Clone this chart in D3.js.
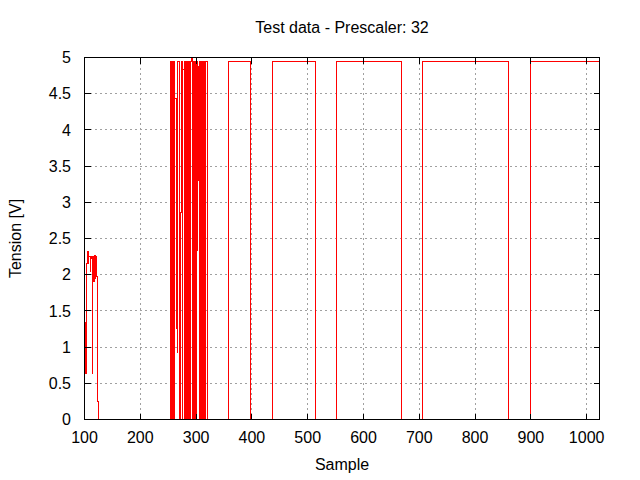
<!DOCTYPE html>
<html>
<head>
<meta charset="utf-8">
<script src="https://cdn.jsdelivr.net/npm/d3@7"></script>
<style>
  html, body { margin: 0; padding: 0; background: #fff; }
  svg { display: block; font-family: "Liberation Sans", Arial, sans-serif; }
</style>
</head>
<body>
<svg id="chart" width="640" height="480"></svg>
<script>
// ---- data ----
const chartTitle = "Test data - Prescaler: 32";
const xLabel = "Sample";
const yLabel = "Tension [V]";
const xTicks = [100, 200, 300, 400, 500, 600, 700, 800, 900, 1000];
const yTicks = [0, 0.5, 1, 1.5, 2, 2.5, 3, 3.5, 4, 4.5, 5];
const xDomain = [100, 1023];
const yDomain = [0, 5];

// early noisy section
const earlySample  = [100, 101, 102, 103, 104, 105, 106, 107, 108, 109, 110, 111, 112,
                      113, 114, 115, 116, 117, 118, 119, 120, 121, 122, 123, 124, 125];
const earlyTension = [1.34, 0.63, 1.34, 0.63, 2.15, 2.32, 2.32, 2.15, 2.25, 2.25, 2.05, 2.25, 2.22,
                      2.25, 0.63, 2.2, 2.25, 1.9, 2.27, 1.95, 2.25, 1.97, 1.97, 0.25, 0.25, 0];

// burst section
const burstSample  = [254, 255, 256, 257, 258, 259, 260, 261, 262, 263, 264, 265, 266, 267, 268, 269,
                      270, 271, 272, 273, 274, 275, 276, 277, 278, 279, 280, 281, 282, 283, 284, 285,
                      286, 287, 288, 289, 290, 291, 292, 293, 294, 295, 296, 297, 298, 299, 300, 301,
                      302, 303, 304, 305, 306, 307, 308, 309, 310, 311, 312, 313, 314, 315, 316, 317,
                      318, 319, 320];
const burstTension = [0, 4.95, 0, 4.95, 0, 4.95, 0, 4.95, 4.43, 4.43, 1.26, 2.67, 0.93, 4.95, 4.95, 4.95,
                      4.95, 0, 2.86, 2.86, 4.95, 0, 4.84, 4.84, 4.84, 0, 4.95, 0, 4.95, 0, 4.95, 4.95,
                      4.95, 0, 4.95, 0, 4.95, 4.95, 5.0, 0, 4.95, 0, 4.95, 0, 4.95, 0, 4.95, 2.33,
                      4.95, 4.87, 4.87, 3.3, 4.95, 0, 4.95, 0, 4.95, 0, 4.95, 0, 4.95, 0, 4.95, 4.95,
                      4.95, 4.95, 0];

// regular square wave section
const pulseRise = [358, 437, 551, 705, 899];
const pulseFall = [397, 514, 668, 860, null];
const pulseHigh = 4.95;

// ---- build series ----
const points = [];
earlySample.forEach((s, i) => points.push([s, earlyTension[i]]));
burstSample.forEach((s, i) => points.push([s, burstTension[i]]));
pulseRise.forEach((r, i) => {
  points.push([r, 0]);
  points.push([r, pulseHigh]);
  if (pulseFall[i] !== null) {
    points.push([pulseFall[i], pulseHigh]);
    points.push([pulseFall[i], 0]);
  } else {
    points.push([xDomain[1], pulseHigh]);
  }
});

// ---- layout ----
const svg = d3.select("#chart");
const L = 84.5, R = 599.5, T = 57.5, B = 419.5;
const x = d3.scaleLinear().domain(xDomain).range([L, R]);
const y = d3.scaleLinear().domain(yDomain).range([B, T]);
const crisp = v => Math.floor(v) + 0.5;
const tickLen = 6;
const fontSize = 16;

// grid
const grid = svg.append("g");
xTicks.filter(t => t > xDomain[0] && t < xDomain[1]).forEach(t => {
  grid.append("line")
    .attr("x1", crisp(x(t))).attr("x2", crisp(x(t)))
    .attr("y1", T).attr("y2", B)
    .attr("stroke", "#a0a0a0").attr("stroke-width", 1)
    .attr("stroke-dasharray", "2,3").attr("shape-rendering", "crispEdges");
});
yTicks.filter(t => t > yDomain[0] && t < yDomain[1]).forEach(t => {
  grid.append("line")
    .attr("x1", L).attr("x2", R)
    .attr("y1", crisp(y(t))).attr("y2", crisp(y(t)))
    .attr("stroke", "#a0a0a0").attr("stroke-width", 1)
    .attr("stroke-dasharray", "2,3").attr("shape-rendering", "crispEdges");
});

// data line
const line = d3.line().x(d => x(d[0])).y(d => y(d[1])).curve(d3.curveStepAfter);
svg.append("path")
  .datum(points)
  .attr("d", line)
  .attr("fill", "none")
  .attr("stroke", "#ff0000")
  .attr("stroke-width", 1)
  .attr("shape-rendering", "crispEdges");

// frame + ticks
const axes = svg.append("g").attr("shape-rendering", "crispEdges");
axes.append("rect")
  .attr("x", L).attr("y", T).attr("width", R - L).attr("height", B - T)
  .attr("fill", "none").attr("stroke", "#000").attr("stroke-width", 1);

xTicks.forEach(t => {
  const px = crisp(x(t));
  axes.append("line").attr("x1", px).attr("x2", px).attr("y1", B).attr("y2", B - tickLen).attr("stroke", "#000");
  axes.append("line").attr("x1", px).attr("x2", px).attr("y1", T).attr("y2", T + tickLen).attr("stroke", "#000");
  svg.append("text")
    .attr("x", x(t)).attr("y", 443)
    .attr("text-anchor", "middle")
    .attr("font-size", fontSize)
    .attr("fill", "#000")
    .text(t);
});
yTicks.forEach(t => {
  const py = crisp(y(t));
  axes.append("line").attr("x1", L).attr("x2", L + tickLen).attr("y1", py).attr("y2", py).attr("stroke", "#000");
  axes.append("line").attr("x1", R).attr("x2", R - tickLen).attr("y1", py).attr("y2", py).attr("stroke", "#000");
  svg.append("text")
    .attr("x", 71).attr("y", y(t) + 5.7)
    .attr("text-anchor", "end")
    .attr("font-size", fontSize)
    .attr("fill", "#000")
    .text(t);
});

// titles
svg.append("text")
  .attr("x", (L + R) / 2).attr("y", 33)
  .attr("text-anchor", "middle").attr("font-size", fontSize).attr("fill", "#000")
  .text(chartTitle);
svg.append("text")
  .attr("x", (L + R) / 2).attr("y", 470)
  .attr("text-anchor", "middle").attr("font-size", fontSize).attr("fill", "#000")
  .text(xLabel);
svg.append("text")
  .attr("transform", `translate(21,${(T + B) / 2}) rotate(-90)`)
  .attr("text-anchor", "middle").attr("font-size", fontSize).attr("fill", "#000")
  .text(yLabel);
</script>
</body>
</html>
